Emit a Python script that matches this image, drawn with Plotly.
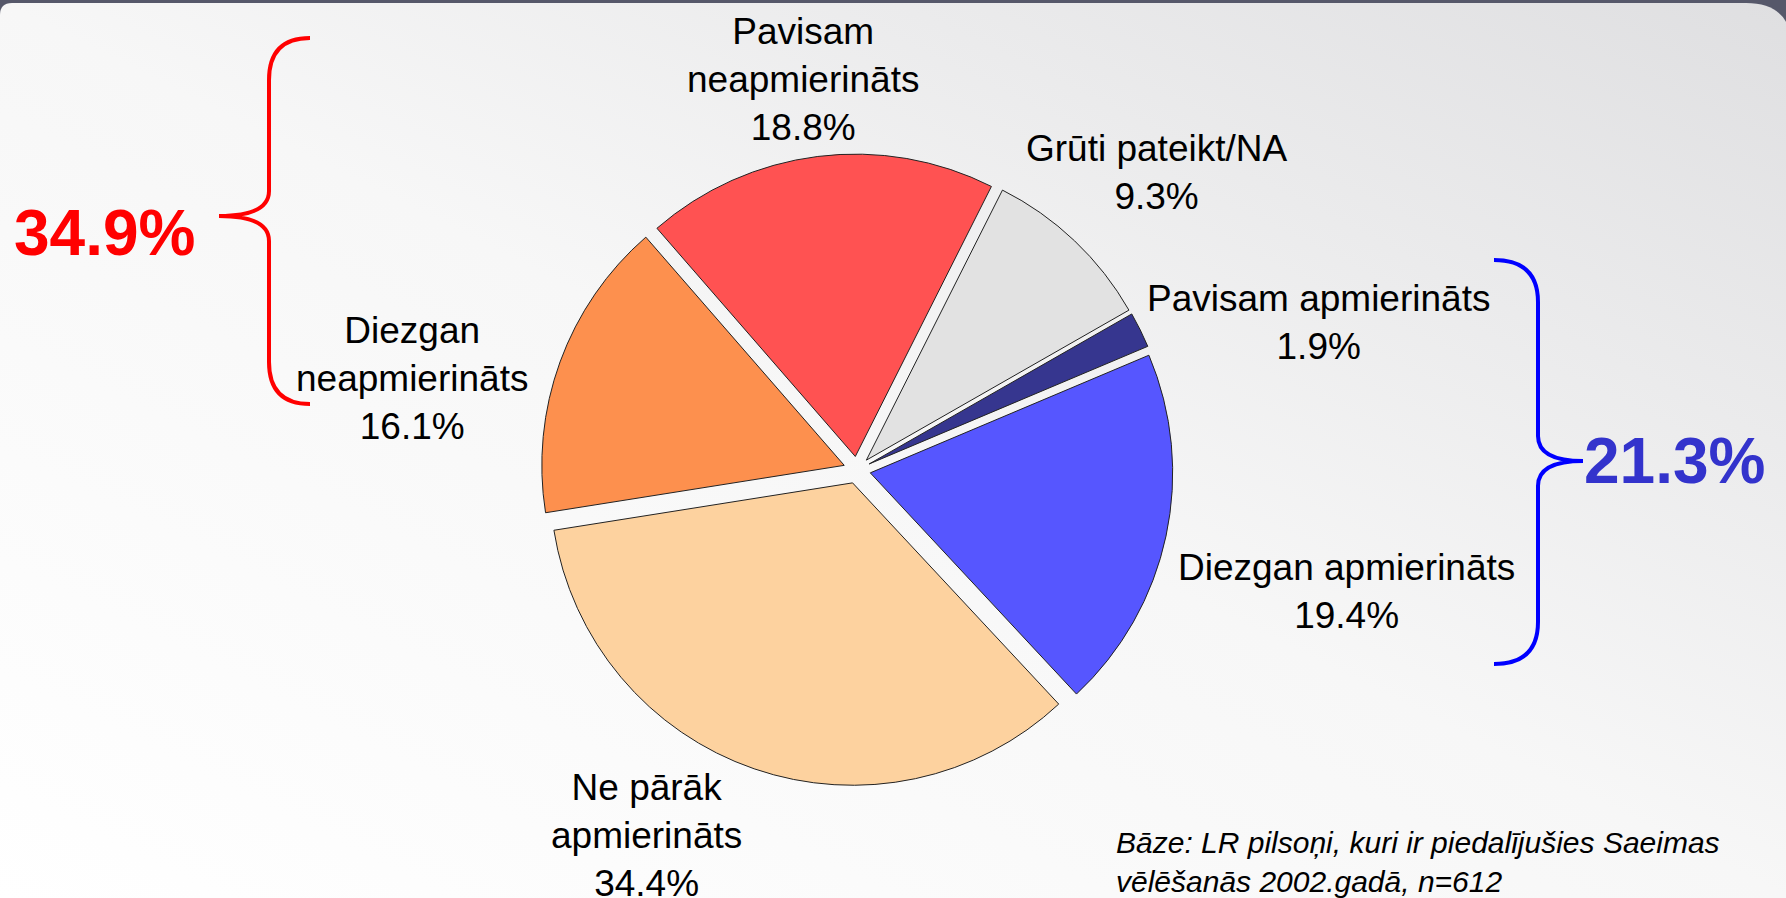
import base64
import plotly.graph_objects as go

W, H = 1786, 898

# slices, clockwise from the upper left
labels = ["Pavisam neapmierināts", "Grūti pateikt/NA", "Pavisam apmierināts",
          "Diezgan apmierināts", "Ne pārāk apmierināts", "Diezgan neapmierināts"]
label_text = ["Pavisam<br>neapmierināts", "Grūti pateikt/NA", "Pavisam apmierināts",
              "Diezgan apmierināts", "Ne pārāk<br>apmierināts", "Diezgan<br>neapmierināts"]
values = [18.8, 9.3, 1.9, 19.4, 34.4, 16.1]
colors = ["#ff5252", "#e2e2e2", "#36368f", "#5656ff", "#fdd29f", "#fd904e"]

unhappy = [0, 5]   # neapmierināti
happy = [2, 3]     # apmierināti
note = "Bāze: LR pilsoņi, kuri ir piedalījušies Saeimas<br>vēlēšanās 2002.gadā, n=612"

# label centres in pixels
label_x = [803, 1156, 1318, 1346, 646, 412]
label_y = [80, 172, 322, 591, 835, 378]

FONT = "Liberation Sans, Arial, sans-serif"


def px(x, y):
    return f"{x / W:.5f},{1 - y / H:.5f}"


def brace(x_end, x_line, x_tip, y_top, y_tip, y_bot, r=42, r2=25):
    return (f"M {px(x_end, y_top)} Q {px(x_line, y_top)} {px(x_line, y_top + r)} "
            f"L {px(x_line, y_tip - r2)} Q {px(x_line, y_tip)} {px(x_tip, y_tip)} "
            f"Q {px(x_line, y_tip)} {px(x_line, y_tip + r2)} "
            f"L {px(x_line, y_bot - r)} Q {px(x_line, y_bot)} {px(x_end, y_bot)}")


# card background with gradient
svg = f'''<svg xmlns="http://www.w3.org/2000/svg" width="{W}" height="{H}" viewBox="0 0 {W} {H}">
<defs><linearGradient id="g" x1="0" y1="1" x2="1" y2="0">
<stop offset="0" stop-color="#ffffff"/><stop offset="0.5" stop-color="#f7f7f7"/>
<stop offset="1" stop-color="#dfdfe1"/></linearGradient></defs>
<path d="M0,15 Q0,3 12,3 L1746,3 Q1792,3 1792,49 L1792,900 L0,900 Z" fill="url(#g)"/></svg>'''
bg = "data:image/svg+xml;base64," + base64.b64encode(svg.encode()).decode()

fig = go.Figure()
fig.add_trace(go.Pie(
    labels=labels,
    values=values,
    sort=False,
    direction="clockwise",
    rotation=-41,
    pull=[0.045] * len(values),
    marker=dict(colors=colors, line=dict(color="#222222", width=1)),
    textinfo="none",
    hoverinfo="label+percent",
    domain=dict(x=[(857 - 316) / W, (857 + 316) / W],
                y=[1 - (470 + 316) / H, 1 - (470 - 316) / H]),
))

annotations = []
for txt, v, x, y in zip(label_text, values, label_x, label_y):
    annotations.append(dict(
        x=x / W, y=1 - y / H, xref="paper", yref="paper",
        text=f"{txt}<br>{v:.1f}%", showarrow=False,
        xanchor="center", yanchor="middle",
        font=dict(family=FONT, size=37, color="#000000")))

neg_total = sum(values[i] for i in unhappy)
pos_total = sum(values[i] for i in happy)
annotations.append(dict(
    x=104 / W, y=1 - 233 / H, xref="paper", yref="paper",
    text=f"<b>{neg_total:.1f}%</b>", showarrow=False,
    xanchor="center", yanchor="middle",
    font=dict(family=FONT, size=64, color="#ff0000")))
annotations.append(dict(
    x=1674 / W, y=1 - 461 / H, xref="paper", yref="paper",
    text=f"<b>{pos_total:.1f}%</b>", showarrow=False,
    xanchor="center", yanchor="middle",
    font=dict(family=FONT, size=64, color="#3333cc")))
annotations.append(dict(
    x=1114 / W, y=1 - 862 / H, xref="paper", yref="paper",
    text=f"<i>{note}</i>", showarrow=False, align="left",
    xanchor="left", yanchor="middle",
    font=dict(family=FONT, size=30, color="#000000")))

shapes = [
    dict(type="path", xref="paper", yref="paper",
         path=brace(310, 269, 219, 38, 216, 404),
         line=dict(color="#ff0000", width=4)),
    dict(type="path", xref="paper", yref="paper",
         path=brace(1494, 1538, 1583, 260, 461, 664),
         line=dict(color="#0000ff", width=4)),
]

fig.update_layout(
    width=W, height=H,
    margin=dict(l=0, r=0, t=0, b=0),
    paper_bgcolor="#56586a",
    plot_bgcolor="rgba(0,0,0,0)",
    showlegend=False,
    annotations=annotations,
    shapes=shapes,
    images=[dict(source=bg, xref="paper", yref="paper", x=0, y=1,
                 sizex=1, sizey=1, sizing="stretch",
                 xanchor="left", yanchor="top", layer="below")],
)

# page body has a default margin; drop it so the figure fills the window
fig.write_html("out.html", config={"displayModeBar": False},
               post_script="document.body.style.margin='0';")
